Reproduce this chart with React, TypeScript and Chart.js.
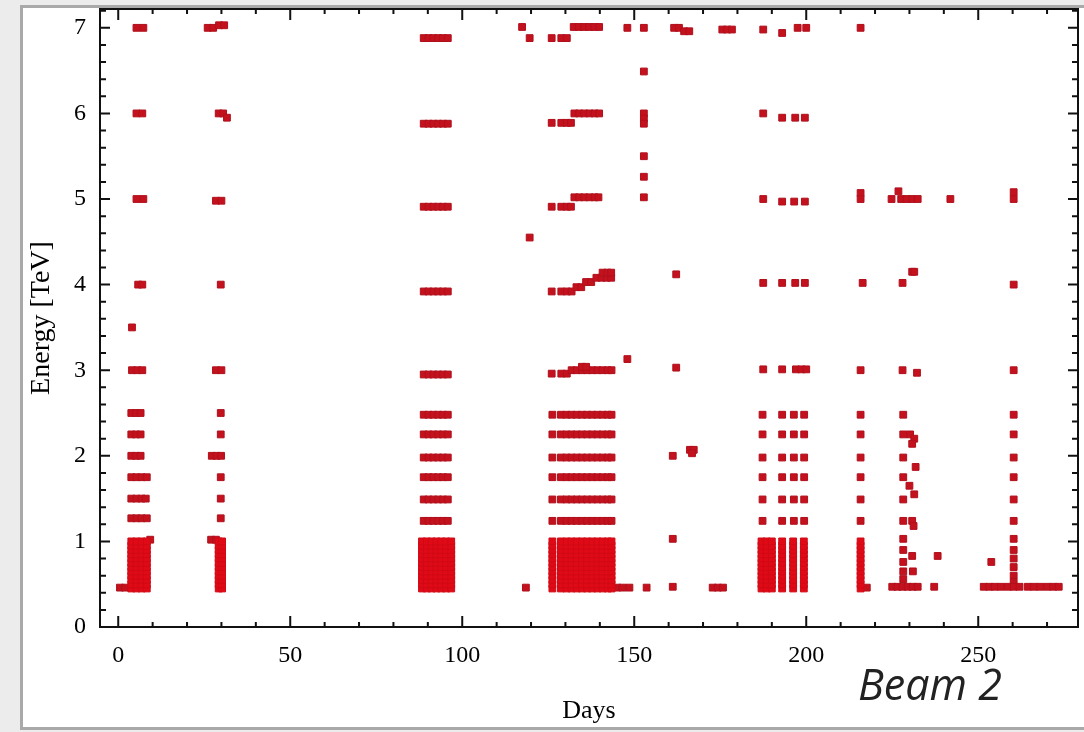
import React, { useEffect, useRef } from 'react';
import { Chart, registerables } from 'chart.js';

Chart.register(...registerables);

type Row = [number, number[]]; // [energy TeV, days[]]

// Axis ranges and tick labels
const xRange = [-5.3, 279];
const yRange = [0, 7.22];
const xTickValues = [0, 50, 100, 150, 200, 250];
const yTickValues = [0, 1, 2, 3, 4, 5, 6, 7];
const xMinorStep = 10;
const yMinorStep = 0.2;

// Energy steps of the dense ramp region (0.45 - 1.0 TeV)
const lowRamp = [0.45, 0.5, 0.55, 0.6, 0.65, 0.7, 0.75, 0.8, 0.85, 0.9, 0.95, 1.0];
// Intermediate energy plateaus seen as bars
const midLevels = [2.48, 2.25, 1.98, 1.75, 1.49, 1.24];

// Run A (days ~3-9)
const runA: Row[] = [
  [7.0, [5.3, 7.3]],
  [6.0, [5.3, 7.0]],
  [5.0, [5.3, 7.3]],
  [4.0, [5.8, 7.0]],
  [3.5, [4.0]],
  [3.0, [4.0, 5.5, 7.0]],
  [2.5, [3.8, 5.2, 6.5]],
  [2.25, [3.8, 5.2, 6.5]],
  [2.0, [3.8, 5.2, 6.5]],
  [1.75, [3.8, 5.3, 6.8, 8.3]],
  [1.5, [3.8, 5.3, 6.8, 8.0]],
  [1.27, [3.8, 5.3, 6.8, 8.3]],
  [1.02, [9.3]],
  [0.46, [0.5, 2.0]],
];
const runADense = [3.8, 5.3, 6.8, 8.3];

// Run B (days ~26-32)
const runB: Row[] = [
  [7.0, [26.0, 27.6]],
  [7.03, [29.3, 30.8]],
  [6.0, [29.2, 30.5]],
  [5.95, [31.6]],
  [4.98, [28.4, 30.0]],
  [4.0, [29.8]],
  [3.0, [28.4, 30.0]],
  [2.5, [29.8]],
  [2.25, [29.8]],
  [2.0, [27.2, 28.6, 29.9]],
  [1.75, [29.8]],
  [1.5, [29.8]],
  [1.27, [29.8]],
  [1.02, [27.0, 28.4]],
];
const runBDense = [29.2, 30.2];

// Run C (days ~87-97)
const runCDays = [88.8, 90.2, 91.6, 93.0, 94.4, 95.8];
const runCLevels = [6.88, 5.88, 4.91, 3.92, 2.95];
const runCDense = [88.3, 89.7, 91.1, 92.5, 93.9, 95.3, 96.8];

// Run D (days ~117-154)
const runD: Row[] = [
  [7.01, [117.4]],
  [6.88, [119.6, 126.0, 128.8, 130.4]],
  [7.01, [132.4, 133.9, 135.4, 136.9, 138.4, 139.8]],
  [6.0, [132.6, 134.0, 135.5, 137.0, 138.5, 139.8]],
  [5.89, [126.0, 128.8, 130.4, 131.6]],
  [5.02, [132.6, 134.0, 135.5, 137.0, 138.5, 139.6]],
  [4.91, [126.0, 128.8, 130.4, 131.6]],
  [4.55, [119.6]],
  [3.92, [126.0, 128.8, 130.4, 131.8]],
  [3.97, [133.2, 134.6]],
  [4.03, [136.0, 137.5]],
  [4.08, [139.0, 140.5, 142.0, 143.3]],
  [4.14, [140.8, 142.2, 143.3]],
  [2.96, [126.0, 128.8, 130.4]],
  [3.0, [131.8, 133.3, 134.8, 136.3, 137.8, 139.3, 140.8, 142.3, 143.4]],
  [3.04, [134.8, 136.0]],
  [3.13, [148.0]],
  [7.0, [148.0, 152.8]],
  [6.49, [152.8]],
  [6.0, [152.8]],
  [5.94, [152.8]],
  [5.88, [152.8]],
  [5.5, [152.8]],
  [5.26, [152.8]],
  [5.02, [152.8]],
  [0.46, [118.5, 145.0, 146.6, 148.6, 153.6]],
];
const runDDays = [126.2, 128.7, 130.3, 131.8, 133.3, 134.8, 136.3, 137.8, 139.3, 140.8, 142.3, 143.4];

// Run E (days ~161-179)
const runE: Row[] = [
  [7.0, [161.6, 163.0]],
  [6.96, [164.5, 166.0]],
  [4.12, [162.2]],
  [3.03, [162.2]],
  [2.0, [161.2]],
  [2.07, [166.2, 167.3]],
  [2.03, [166.8]],
  [1.03, [161.2]],
  [0.47, [161.2]],
  [0.46, [172.8, 174.3, 175.8]],
  [6.98, [175.6, 177.0, 178.4]],
];

// Run F (days ~186-200)
const runF: Row[] = [
  [6.98, [187.5]],
  [6.94, [193.0]],
  [7.0, [197.5, 200.0]],
  [6.0, [187.5]],
  [5.95, [193.0, 196.8, 199.6]],
  [5.0, [187.5]],
  [4.97, [193.0, 196.5, 199.6]],
  [4.02, [187.5, 193.0, 196.8, 199.6]],
  [3.01, [187.5, 193.0, 197.0, 198.6, 200.0]],
];
const runFDays = [187.3, 193.0, 196.4, 199.4];
const runFDense = [187.0, 188.5, 190.0, 193.0, 196.2, 199.3];

// Day ~216 fill
const run216: Row[] = [
  [7.0, [215.8]],
  [5.07, [215.8]],
  [5.0, [215.8]],
  [4.02, [216.4]],
  [3.0, [215.8]],
  [0.46, [217.6]],
];
const run216Days = [215.8];

// Run G (days ~224-242)
const runG: Row[] = [
  [5.0, [224.8, 227.6, 229.2, 230.8, 232.4, 241.9]],
  [5.09, [226.8]],
  [4.02, [228.0]],
  [4.15, [230.8, 231.4]],
  [3.0, [228.0]],
  [2.97, [232.2]],
  [2.48, [228.2]],
  [2.25, [228.2, 230.2]],
  [2.2, [231.4]],
  [2.14, [230.8]],
  [1.98, [228.2]],
  [1.87, [231.8]],
  [1.75, [228.2]],
  [1.65, [230.0]],
  [1.55, [231.4]],
  [1.49, [228.2]],
  [1.24, [228.2, 230.8]],
  [1.18, [231.2]],
  [1.03, [228.2]],
  [0.9, [228.2]],
  [0.83, [230.8, 238.2]],
  [0.76, [228.2]],
  [0.65, [228.2, 231.0]],
  [0.56, [228.2]],
  [0.47, [225.0, 226.5, 228.0, 229.5, 231.0, 232.4, 237.2]],
];

// Run H (days ~250-274)
const runH: Row[] = [
  [5.08, [260.3]],
  [5.0, [260.3]],
  [4.0, [260.3]],
  [3.0, [260.3]],
  [1.03, [260.3]],
  [0.9, [260.3]],
  [0.8, [260.3]],
  [0.7, [260.3]],
  [0.6, [260.3]],
  [0.52, [260.3]],
  [0.76, [253.8]],
  [0.47, [251.6, 253.2, 254.8, 256.6, 258.6, 260.3, 262.0, 264.4, 266.2, 268.0, 270.0, 271.8, 273.4]],
];
const runHDays = [260.3];

// [days, energies] blocks (every day of the list at every energy of the list)
const barBlocks: [number[], number[]][] = [
  [runCDays, runCLevels],
  [runCDays, midLevels],
  [runDDays, midLevels],
  [runFDays, midLevels],
  [run216Days, midLevels],
  [runHDays, midLevels],
];
const denseBlocks: [number[], number[]][] = [
  [runADense, lowRamp],
  [runBDense, lowRamp],
  [runCDense, lowRamp],
  [runDDays, lowRamp],
  [runFDense, lowRamp],
  [run216Days, lowRamp],
];

const allRows: Row[] = [...runA, ...runB, ...runD, ...runE, ...runF, ...run216, ...runG, ...runH];

const rowPoints = allRows.flatMap(([e, ds]) => ds.map((d) => ({ x: d, y: e })));
const blockPts = (blocks: [number[], number[]][]) =>
  blocks.flatMap(([ds, es]) => es.flatMap((e) => ds.map((d) => ({ x: d, y: e }))));
const sparsePoints = [...rowPoints, ...blockPts(barBlocks)];
const densePoints = blockPts(denseBlocks);

const framePlugin = {
  id: 'frameTicks',
  afterDatasetsDraw(chart: any) {
    const { ctx, chartArea: a, scales } = chart;
    const xs = scales.x;
    const ys = scales.y;
    ctx.save();
    ctx.strokeStyle = '#111';
    ctx.lineWidth = 2;
    ctx.beginPath();
    for (let i = 0; i * xMinorStep <= xRange[1]; i++) {
      const v = i * xMinorStep;
      const px = xs.getPixelForValue(v);
      const len = xTickValues.includes(v) ? 11 : 5;
      ctx.moveTo(px, a.bottom);
      ctx.lineTo(px, a.bottom - len);
      ctx.moveTo(px, a.top);
      ctx.lineTo(px, a.top + len);
    }
    for (let i = 0; i * yMinorStep <= yRange[1] + 1e-9; i++) {
      const py = ys.getPixelForValue(i * yMinorStep);
      const len = i % 5 === 0 ? 10 : 6;
      ctx.moveTo(a.left, py);
      ctx.lineTo(a.left + len, py);
      ctx.moveTo(a.right, py);
      ctx.lineTo(a.right - len, py);
    }
    ctx.stroke();
    ctx.strokeRect(a.left, a.top, a.right - a.left, a.bottom - a.top);
    ctx.restore();
  },
};

export default function App() {
  const ref = useRef<HTMLCanvasElement>(null);

  useEffect(() => {
    const tickFont = { family: '"Liberation Serif", "DejaVu Serif", serif', size: 24 };
    const chart = new Chart(ref.current as HTMLCanvasElement, {
      type: 'scatter',
      data: {
        datasets: [
          {
            data: densePoints,
            backgroundColor: '#e00a16',
            borderColor: '#d00a16',
            borderWidth: 1,
            pointStyle: 'rect',
            pointRadius: 4.8,
          },
          {
            data: sparsePoints,
            backgroundColor: '#c4111e',
            borderColor: '#b0101c',
            borderWidth: 1,
            pointStyle: 'rect',
            pointRadius: 4.8,
          },
        ],
      },
      options: {
        animation: false,
        responsive: false,
        maintainAspectRatio: false,
        layout: { padding: { left: 0, right: 6, top: 9, bottom: 0 } },
        plugins: { legend: { display: false }, tooltip: { enabled: false } },
        scales: {
          x: {
            type: 'linear',
            min: xRange[0],
            max: xRange[1],
            grid: { display: false, drawTicks: false },
            border: { display: false },
            afterBuildTicks: (s: any) => {
              s.ticks = xTickValues.map((v) => ({ value: v }));
            },
            afterFit: (s: any) => {
              s.height = 105;
              s.paddingLeft = 0;
              s.paddingRight = 0;
            },
            ticks: { font: tickFont, color: '#000', padding: 14, maxRotation: 0, autoSkip: false },
            title: {
              display: true,
              text: 'Days',
              color: '#000',
              font: { family: '"Liberation Serif", "DejaVu Serif", serif', size: 26 },
              padding: { top: 0, bottom: 5 },
            },
          },
          y: {
            type: 'linear',
            min: yRange[0],
            max: yRange[1],
            grid: { display: false, drawTicks: false },
            border: { display: false },
            afterBuildTicks: (s: any) => {
              s.ticks = yTickValues.map((v) => ({ value: v }));
            },
            afterFit: (s: any) => {
              s.width = 100;
              s.paddingTop = 0;
              s.paddingBottom = 0;
            },
            ticks: { font: tickFont, color: '#000', padding: 14, autoSkip: false },
            title: {
              display: true,
              text: 'Energy [TeV]',
              color: '#000',
              font: { family: '"Liberation Serif", "DejaVu Serif", serif', size: 28 },
              padding: { top: 25, bottom: 0 },
            },
          },
        },
      },
      plugins: [framePlugin],
    } as any);
    return () => chart.destroy();
  }, []);

  return (
    <div
      style={{
        position: 'fixed',
        left: 0,
        top: 0,
        width: 1084,
        height: 732,
        background: '#ececec',
        overflow: 'hidden',
      }}
    >
      <div
        style={{
          position: 'absolute',
          left: 20,
          top: 5,
          width: 1080,
          height: 719,
          background: '#ffffff',
          borderLeft: '3px solid #a9a9a9',
          borderTop: '3px solid #a9a9a9',
          borderBottom: '3px solid #a9a9a9',
        }}
      />
      <canvas
        ref={ref}
        width={1084}
        height={732}
        style={{ position: 'absolute', left: 0, top: 0, width: 1084, height: 732 }}
      />
      <span
        style={{
          position: 'absolute',
          left: 858,
          top: 662,
          fontFamily: '"Open Sans", "Liberation Sans", sans-serif',
          fontStyle: 'italic',
          fontSize: 43,
          lineHeight: 1,
          color: '#222',
          whiteSpace: 'nowrap',
        }}
      >
        Beam 2
      </span>
    </div>
  );
}
